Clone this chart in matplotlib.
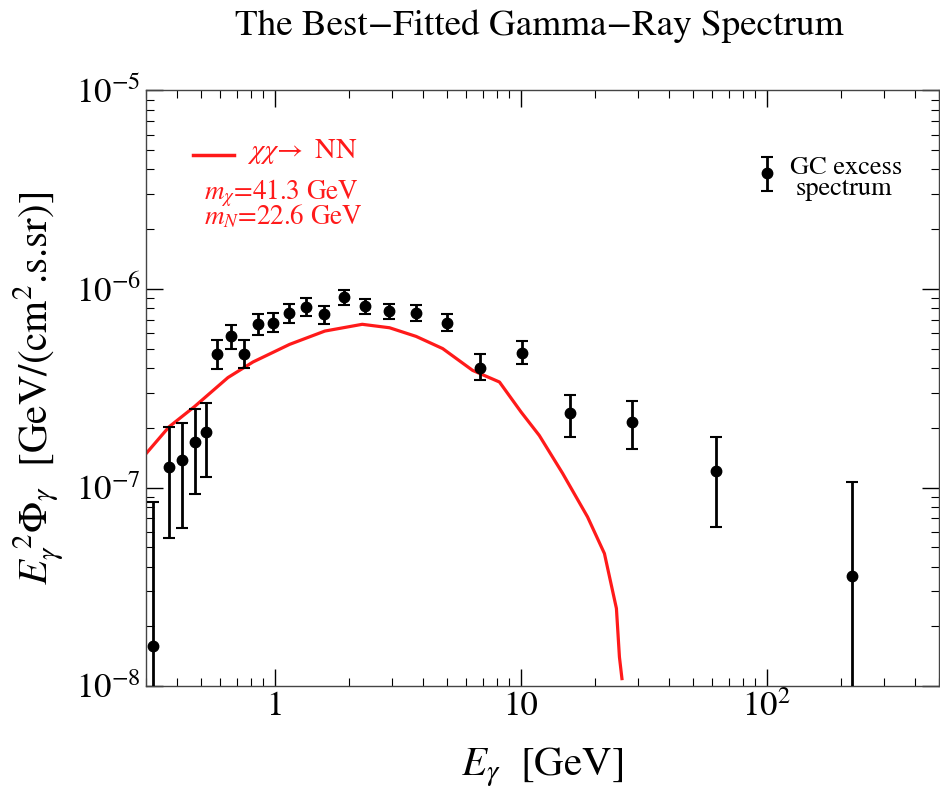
import matplotlib
matplotlib.use('Agg')
import matplotlib.pyplot as plt
import numpy as np
from matplotlib.ticker import FixedLocator, FixedFormatter, LogLocator, NullFormatter

plt.rcParams['font.family'] = ['STIXGeneral', 'DejaVu Serif']
plt.rcParams['mathtext.fontset'] = 'stix'

# GC excess spectrum: energy, flux and error-bar ends
e_data = [0.321, 0.372, 0.422, 0.473, 0.528, 0.585, 0.663, 0.751, 0.855, 0.985,
          1.14, 1.34, 1.59, 1.91, 2.34, 2.93, 3.76, 5.01, 6.86, 10.1,
          15.9, 28.3, 62.5, 223.0]
flux = [1.59e-8, 1.27e-7, 1.37e-7, 1.70e-7, 1.90e-7, 4.69e-7, 5.77e-7, 4.72e-7, 6.69e-7, 6.74e-7,
        7.60e-7, 8.11e-7, 7.45e-7, 9.10e-7, 8.20e-7, 7.71e-7, 7.60e-7, 6.77e-7, 4.02e-7, 4.78e-7,
        2.36e-7, 2.14e-7, 1.21e-7, 3.59e-8]
flux_hi = [8.46e-8, 2.02e-7, 2.11e-7, 2.50e-7, 2.67e-7, 5.51e-7, 6.61e-7, 5.51e-7, 7.51e-7, 7.60e-7,
           8.37e-7, 9.00e-7, 8.17e-7, 9.84e-7, 8.94e-7, 8.43e-7, 8.34e-7, 7.51e-7, 4.69e-7, 5.45e-7,
           2.91e-7, 2.73e-7, 1.80e-7, 1.07e-7]
flux_lo = [1e-9, 5.54e-8, 6.22e-8, 9.25e-8, 1.13e-7, 3.95e-7, 5.01e-7, 4.02e-7, 5.89e-7, 6.07e-7,
           6.77e-7, 7.28e-7, 6.69e-7, 8.34e-7, 7.51e-7, 7.03e-7, 6.90e-7, 6.14e-7, 3.47e-7, 4.21e-7,
           1.79e-7, 1.57e-7, 6.29e-8, 1e-9]

# best-fit chi chi -> NN spectrum
e_fit = [0.300, 0.372, 0.473, 0.646, 0.817, 1.15, 1.60, 2.27, 2.93, 3.76,
         4.82, 6.38, 8.20, 10.04, 11.9, 14.8, 18.7, 21.9, 24.5, 25.2, 25.8]
flux_fit = [1.48e-7, 2.02e-7, 2.56e-7, 3.58e-7, 4.29e-7, 5.26e-7, 6.14e-7, 6.64e-7, 6.38e-7, 5.77e-7,
            5.01e-7, 3.89e-7, 3.40e-7, 2.40e-7, 1.83e-7, 1.18e-7, 7.11e-8, 4.65e-8, 2.46e-8, 1.40e-8, 1.09e-8]

fig = plt.figure(figsize=(9.4, 7.91), dpi=100)
ax = fig.add_axes([0.1553, 0.1327, 0.8433, 0.7529])

ax.plot(e_fit, flux_fit, color='#ff1a1a', lw=2.3, zorder=2)

y = np.array(flux)
yerr = [y - np.array(flux_lo), np.array(flux_hi) - y]
ax.errorbar(e_data, y, yerr=yerr, fmt='o', color='black', ms=7.5,
            elinewidth=2, capsize=4, capthick=1.5, zorder=3)

ax.set_xscale('log')
ax.set_yscale('log')
ax.set_xlim(0.3, 500)
ax.set_ylim(1e-8, 1e-5)

ax.xaxis.set_major_locator(FixedLocator([1, 10, 100]))
ax.xaxis.set_major_formatter(FixedFormatter(['1', '10', '$10^2$']))
ax.yaxis.set_major_locator(FixedLocator([1e-8, 1e-7, 1e-6, 1e-5]))
ax.yaxis.set_major_formatter(FixedFormatter(['$10^{-8}$', '$10^{-7}$', '$10^{-6}$', '$10^{-5}$']))
for axis in (ax.xaxis, ax.yaxis):
    axis.set_minor_locator(LogLocator(base=10, subs=np.arange(2, 10), numticks=20))
    axis.set_minor_formatter(NullFormatter())

ax.tick_params(which='both', direction='in', top=True, right=True, labelsize=25, colors='black')
ax.tick_params(which='major', length=12, width=1)
ax.tick_params(which='minor', length=6, width=0.8)
for s in ax.spines.values():
    s.set_color('#444444')
    s.set_linewidth(1)

ax.set_xlabel(r'$E_\gamma$  [GeV]', fontsize=29.5)
ax.xaxis.set_label_coords(0.5, -0.1)
ax.set_ylabel(r'$E_\gamma^{\ 2}\Phi_\gamma$  [GeV/(cm$^2$.s.sr)]', fontsize=29.5, labelpad=6)
fig.suptitle('The Best\u2212Fitted Gamma\u2212Ray Spectrum', x=0.574, y=0.988, fontsize=26.7)

# legend for the model curve
ax.plot([0.465, 0.685], [4.75e-6, 4.75e-6], color='#ff1a1a', lw=2.5)
ax.text(0.77, 4.57e-6, r'$\chi\chi\!\rightarrow$ NN', color='#ff1a1a', fontsize=20.5, va='baseline')
ax.text(0.515, 2.82e-6, r'$m_\chi$=41.3 GeV', color='#ff1a1a', fontsize=19.5, va='baseline')
ax.text(0.515, 2.11e-6, r'$m_N$=22.6 GeV', color='#ff1a1a', fontsize=19.5, va='baseline')

# legend for the data points
ax.errorbar([100.5], [3.82e-6], yerr=[[0.72e-6], [0.78e-6]], fmt='o', color='black', ms=7.5,
            elinewidth=2, capsize=4, capthick=1.5)
ax.text(124, 3.78e-6, 'GC excess', fontsize=19, va='baseline')
ax.text(131, 2.96e-6, 'spectrum', fontsize=19, va='baseline')

fig.savefig('out.png', dpi=100)
